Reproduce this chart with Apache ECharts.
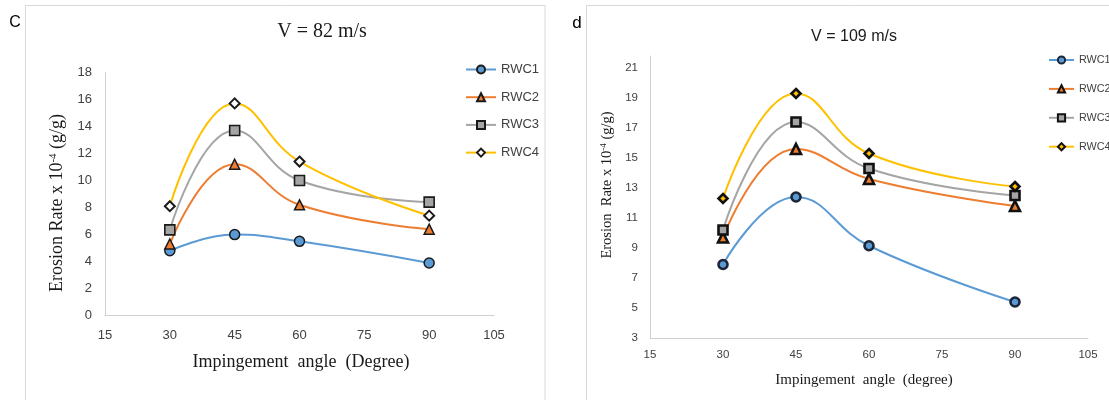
<!DOCTYPE html>
<html><head><meta charset="utf-8">
<script src="https://cdn.jsdelivr.net/npm/echarts@6/dist/echarts.min.js"></script>
<style>html,body{margin:0;padding:0;background:#fff}#c{width:1109px;height:400px}</style>
</head><body><div id="c"></div>
<script>
const angles = [30, 45, 60, 90];
const seriesNames = ['RWC1', 'RWC2', 'RWC3', 'RWC4'];
// Panel c: V = 82 m/s
const c_RWC1 = [4.8, 6.0, 5.5, 3.9];
const c_RWC2 = [5.3, 11.2, 8.2, 6.4];
const c_RWC3 = [6.35, 13.7, 10.0, 8.4];
const c_RWC4 = [8.1, 15.7, 11.4, 7.4];
// Panel d: V = 109 m/s
const d_RWC1 = [7.9, 12.4, 9.15, 5.4];
const d_RWC2 = [9.7, 15.6, 13.6, 11.8];
const d_RWC3 = [10.2, 17.4, 14.3, 12.5];
const d_RWC4 = [12.3, 19.3, 15.3, 13.1];

const colors = ['#5B9BD5', '#ED7D31', '#A5A5A5', '#FFC000'];
const symbolsC = ['circle', 'triangle', 'rect', 'diamond'];
const sizesC = [10, 10, 10, 10];
const bwC = [1.5, 1.5, 1.6, 2];
const fillC = ['#5B9BD5', '#ED7D31', '#A5A5A5', '#ffffff'];
const sizesD = [9, 10, 9, 9];
const borderD = ['#1c2638', '#111111', '#111111', '#111111'];

const cData = [c_RWC1, c_RWC2, c_RWC3, c_RWC4];
const dData = [d_RWC1, d_RWC2, d_RWC3, d_RWC4];

const series = [];
cData.forEach((arr, i) => {
  series.push({
    name: seriesNames[i], type: 'line', xAxisIndex: 0, yAxisIndex: 0,
    data: angles.map((a, k) => [a, arr[k]]), smooth: 0.45,
    symbol: symbolsC[i], symbolSize: sizesC[i],
    lineStyle: { color: colors[i], width: 2 },
    itemStyle: { color: fillC[i], borderColor: '#1a1a1a', borderWidth: bwC[i] },
    z: 2 + i
  });
});
dData.forEach((arr, i) => {
  series.push({
    name: seriesNames[i] + '_d', type: 'line', xAxisIndex: 1, yAxisIndex: 1,
    data: angles.map((a, k) => [a, arr[k]]), smooth: 0.45,
    symbol: symbolsC[i], symbolSize: sizesD[i],
    lineStyle: { color: colors[i], width: 2 },
    itemStyle: { color: colors[i], borderColor: borderD[i], borderWidth: 2.6 },
    z: 2 + i
  });
});

const axisCommon = {
  axisLine: { show: true, lineStyle: { color: '#d0d0d0', width: 1 } },
  axisTick: { show: false },
  splitLine: { show: false }
};

const option = {
  animation: false,
  backgroundColor: '#ffffff',
  grid: [
    { left: 105, top: 72.3, width: 389, height: 243.4 },
    { left: 650, top: 338 - 18.8 * 15, width: 438, height: 18.8 * 15 }
  ],
  xAxis: [
    Object.assign({ type: 'value', gridIndex: 0, min: 15, max: 105, interval: 15,
      axisLabel: { color: '#404040', fontSize: 13, fontFamily: 'Liberation Sans', margin: 13 } }, axisCommon),
    Object.assign({ type: 'value', gridIndex: 1, min: 15, max: 105, interval: 15,
      axisLabel: { color: '#404040', fontSize: 11.5, fontFamily: 'Liberation Sans', margin: 11 } }, axisCommon)
  ],
  yAxis: [
    Object.assign({ type: 'value', gridIndex: 0, min: 0, max: 18, interval: 2,
      axisLabel: { color: '#404040', fontSize: 13, fontFamily: 'Liberation Sans', margin: 13 } }, axisCommon),
    Object.assign({ type: 'value', gridIndex: 1, min: 3, max: 21.8, interval: 2,
      axisLabel: { color: '#404040', fontSize: 11.5, fontFamily: 'Liberation Sans', margin: 12, showMaxLabel: false } }, axisCommon)
  ],
  legend: [
    { data: seriesNames, orient: 'vertical', left: 465, top: 63, itemWidth: 30, itemHeight: 10, itemGap: 14.7, padding: 0,
      textStyle: { color: '#404040', fontSize: 13, fontFamily: 'Liberation Sans' }, selectedMode: false },
    { data: seriesNames.map(n => n + '_d'), orient: 'vertical', left: 1048, top: 54.5, itemWidth: 25, itemHeight: 9, itemGap: 17.9, padding: 0,
      formatter: n => n.replace('_d', ''),
      textStyle: { color: '#404040', fontSize: 10.8, fontFamily: 'Liberation Sans' }, selectedMode: false }
  ],
  graphic: [
    { type: 'rect', shape: { x: 25.5, y: 5.5, width: 519.5, height: 420 }, style: { fill: 'none', stroke: '#d9d9d9', lineWidth: 1 }, silent: true },
    { type: 'rect', shape: { x: 586.5, y: 5.5, width: 540, height: 420 }, style: { fill: 'none', stroke: '#d9d9d9', lineWidth: 1 }, silent: true },
    { type: 'text', x: 15, y: 23, style: { text: 'C', font: '16px "Liberation Sans"', fill: '#000', textAlign: 'center', verticalAlign: 'middle' } },
    { type: 'text', x: 577, y: 23, style: { text: 'd', font: '17px "Liberation Sans"', fill: '#000', textAlign: 'center', verticalAlign: 'middle' } },
    { type: 'text', x: 322, y: 32, style: { text: 'V = 82 m/s', font: '20px "Liberation Serif"', fill: '#1a1a1a', textAlign: 'center', verticalAlign: 'middle' } },
    { type: 'text', x: 854, y: 37, style: { text: 'V = 109 m/s', font: '16px "Liberation Sans"', fill: '#1a1a1a', textAlign: 'center', verticalAlign: 'middle' } },
    { type: 'text', x: 301, y: 362, style: { text: 'Impingement  angle  (Degree)', font: '18px "Liberation Serif"', fill: '#1a1a1a', textAlign: 'center', verticalAlign: 'middle' } },
    { type: 'text', x: 864, y: 380, style: { text: 'Impingement  angle  (degree)', font: '15px "Liberation Serif"', fill: '#1a1a1a', textAlign: 'center', verticalAlign: 'middle' } },
    { type: 'text', x: 57, y: 203, rotation: Math.PI / 2,
      style: { text: '{a|Erosion Rate x 10}{s|-4}{a| (g/g)}', textAlign: 'center', verticalAlign: 'middle',
        rich: { a: { font: '18px "Liberation Serif"', fill: '#1a1a1a' }, s: { font: '11px "Liberation Serif"', fill: '#1a1a1a', verticalAlign: 'top', padding: [0, 0, 8, 0] } } } },
    { type: 'text', x: 607, y: 185, rotation: Math.PI / 2,
      style: { text: '{a|Erosion  Rate x 10}{s|-4}{a| (g/g)}', textAlign: 'center', verticalAlign: 'middle',
        rich: { a: { font: '14.5px "Liberation Serif"', fill: '#1a1a1a' }, s: { font: '9px "Liberation Serif"', fill: '#1a1a1a', verticalAlign: 'top', padding: [0, 0, 6, 0] } } } }
  ],
  series: series
};
const chart = echarts.init(document.getElementById('c'), null, { renderer: 'canvas' });
chart.setOption(option);
</script></body></html>
